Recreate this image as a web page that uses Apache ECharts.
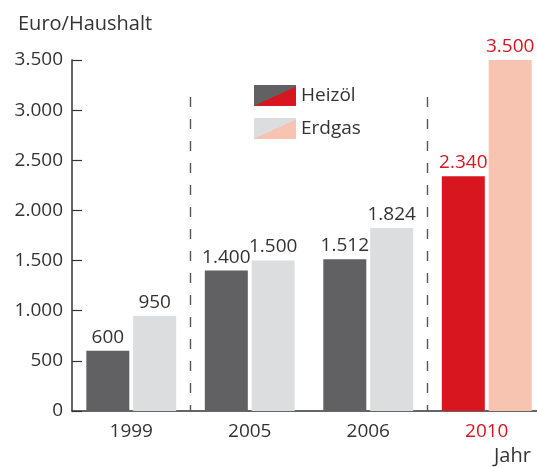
<!DOCTYPE html>
<html style="height: 100%">
<head>
<meta charset="utf-8">
<script src="https://cdn.jsdelivr.net/npm/echarts@6/dist/echarts.min.js"></script>
</head>
<body style="height: 100%; margin: 0; background: #fff">
<div id="container" style="width: 537px; height: 467px"></div>
<script type="text/javascript">
var years = ['1999', '2005', '2006', '2010'];
var heizoel = [600, 1400, 1512, 2340];
var erdgas = [950, 1500, 1824, 3500];
var yTicks = [0, 500, 1000, 1500, 2000, 2500, 3000, 3500];
// separators between groups (boundary index on 0..4 scale) and their top value
var separators = [1, 3];
var separatorTop = 3130;

var DARK = '#616163', LIGHT = '#dcdddf', RED = '#d7161f', SALMON = '#f6c4b1';
var FONT = 'Open Sans';

function fmt(v) {
    return String(v).replace(/\B(?=(\d{3})+(?!\d))/g, '.');
}

// legend icons split diagonally (bottom-left to top-right)
function splitFill(c1, c2) {
    return new echarts.graphic.LinearGradient(0, 0, 0.37, 1.63, [
        {offset: 0, color: c1}, {offset: 0.5, color: c1},
        {offset: 0.5, color: c2}, {offset: 1, color: c2}
    ]);
}

function barData(values, normal, last) {
    return values.map(function (v, i) {
        var isLast = i === values.length - 1;
        return {
            value: v,
            itemStyle: {color: isLast ? last : normal},
            label: {color: isLast ? RED : '#333'}
        };
    });
}

var myChart = echarts.init(document.getElementById('container'));

var option = {
    animation: false,
    textStyle: {fontFamily: FONT},
    title: [
        {text: 'Euro/Haushalt', left: 13, top: 9,
         textStyle: {fontFamily: FONT, fontSize: 20, fontWeight: 'normal', color: '#333'}},
        {text: 'Jahr', left: 489, top: 441,
         textStyle: {fontFamily: FONT, fontSize: 20, fontWeight: 'normal', color: '#333'}}
    ],
    legend: {
        orient: 'vertical',
        left: 249,
        top: 80,
        itemWidth: 42,
        itemHeight: 21,
        itemGap: 12,
        icon: 'rect',
        textStyle: {fontSize: 19, color: '#333', fontFamily: FONT},
        data: [
            {name: 'Heizöl', itemStyle: {color: splitFill(DARK, RED)}},
            {name: 'Erdgas', itemStyle: {color: splitFill(LIGHT, SALMON)}}
        ]
    },
    grid: {left: 72, top: 60, width: 474, bottom: 56, outerBoundsMode: 'none', containLabel: false},
    xAxis: [
        {
            type: 'category',
            data: years,
            axisLine: {lineStyle: {color: '#333', width: 1.5}},
            axisTick: {show: false},
            axisLabel: {
                fontSize: 19, margin: 11, fontFamily: FONT,
                color: function (v, i) { return v === '2010' ? RED : '#333'; }
            }
        },
        {
            type: 'value', min: 0, max: years.length, show: false
        }
    ],
    yAxis: {
        type: 'value',
        min: yTicks[0],
        max: yTicks[yTicks.length - 1],
        interval: 500,
        splitLine: {show: false},
        axisLine: {show: true, lineStyle: {color: '#333', width: 1.5}},
        axisTick: {show: true, inside: true, length: 10, lineStyle: {color: '#333', width: 1.2}},
        axisLabel: {fontSize: 19, color: '#333', margin: 9, fontFamily: FONT, formatter: fmt}
    },
    series: [
        {
            name: 'Heizöl',
            type: 'bar',
            barWidth: 43,
            barGap: '9%',
            itemStyle: {color: DARK},
            label: {show: true, position: 'top', distance: 4, fontSize: 19, fontFamily: FONT,
                    formatter: function (p) { return fmt(p.value); }},
            data: barData(heizoel, DARK, RED)
        },
        {
            name: 'Erdgas',
            type: 'bar',
            barWidth: 43,
            itemStyle: {color: LIGHT},
            label: {show: true, position: 'top', distance: 4, fontSize: 19, fontFamily: FONT,
                    formatter: function (p) { return fmt(p.value); }},
            data: barData(erdgas, LIGHT, SALMON)
        },
        {
            name: 'sep',
            type: 'line',
            xAxisIndex: 1,
            data: [],
            markLine: {
                silent: true,
                symbol: 'none',
                label: {show: false},
                lineStyle: {color: '#555', type: [10, 12], width: 1.4},
                data: separators.map(function (s) {
                    return [{coord: [s, separatorTop]}, {coord: [s, 0]}];
                })
            }
        }
    ]
};

myChart.setOption(option);
</script>
</body>
</html>
